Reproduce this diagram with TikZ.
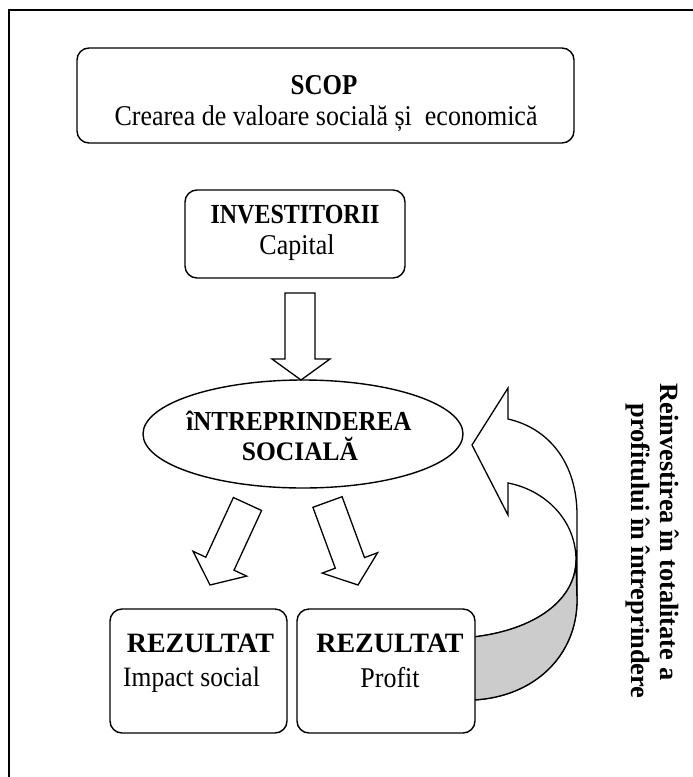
\documentclass[tikz,border=0pt]{standalone}
\usepackage{fontspec}
\usepackage{graphicx}
\setmainfont{Liberation Serif}
\usetikzlibrary{shapes.geometric}
% taller lettering used inside the upper boxes
\newcommand{\tallset}[2]{\scalebox{1}[#1]{#2}}
\begin{document}
\begin{tikzpicture}[x=1pt,y=-1pt,
  frame/.style={line width=1.6pt},
  box/.style={draw, line width=1.4pt, rounded corners=12pt, inner sep=0pt, fill=white},
  blockarrow/.style={draw, line width=1.3pt, fill=white, line join=miter},
  lbl/.style={inner sep=0pt, anchor=base},
  boldlbl/.style={lbl, font=\fontsize{#1}{#1}\selectfont\bfseries},
  plainlbl/.style={lbl, font=\fontsize{#1}{#1}\selectfont},
]
\useasboundingbox (0,0) rectangle (693,777);

% page frame, running off the right and bottom edges
\begin{scope}
  \clip (0,0) rectangle (693,777);
  \draw[frame] (9,10) rectangle (720,800);
\end{scope}

% goal box
\node[box, minimum width=497pt, minimum height=95pt] (scop) at (325.5,95.5) {};
\node[boldlbl=25] (scoptitle) at (324,94) {\tallset{1.15}{SCOP}};
\node[plainlbl=26] (scoptext) at (326,125) {\tallset{1.1}{Crearea de valoare socială și~ economică}};

% investors box
\node[box, minimum width=220pt, minimum height=88pt] (inv) at (295,234) {};
\node[boldlbl=24] (invtitle) at (295,223) {\tallset{1.15}{INVESTITORII}};
\node[plainlbl=26] (invtext) at (297,254) {\tallset{1.1}{Capital}};

% block arrow: investors -> enterprise
\draw[blockarrow] (285,293) -- (315,293) -- (315,359) -- (330,359) -- (301,380)
  -- (272,359) -- (285,359) -- cycle;

% social enterprise
\node[draw, ellipse, line width=1.4pt, minimum width=320pt, minimum height=108pt, inner sep=0pt] (ent) at (303,434) {};
\node[boldlbl=25] (enttitle) at (299,430) {\tallset{1.1}{îNTREPRINDEREA}};
\node[boldlbl=25.5] (entsub) at (300,460) {\tallset{1.05}{SOCIALĂ}};

% block arrows: enterprise -> results
\draw[blockarrow] (233.4,497.5) -- (261.6,510.5) -- (234.0,570.2) -- (246.7,576.1)
  -- (210,585) -- (193.1,551.3) -- (205.8,557.2) -- cycle;
\draw[blockarrow] (312.9,507.3) -- (342.1,496.7) -- (364.5,557.6) -- (377.6,552.7)
  -- (358,585) -- (322.2,573.1) -- (335.3,568.2) -- cycle;

% curved return arrow: profit -> enterprise
\draw[blockarrow] (473,637) .. controls (535,630) and (576,600) .. (576,560)
  .. controls (576,520) and (545,490) .. (508,483) -- (508,515) -- (472,445)
  -- (508,388) -- (508,419) .. controls (548,428) and (577,462) .. (577,515)
  -- (577,600) .. controls (577,655) and (535,697) .. (473,700) -- cycle;
\draw[blockarrow, fill=gray!40] (473,637) .. controls (535,630) and (576,600) .. (576,560)
  -- (577,600) .. controls (577,655) and (535,697) .. (473,700) -- cycle;

% result boxes
\node[box, minimum width=177pt, minimum height=124pt] (resa) at (198.5,671) {};
\node[boldlbl=28] (resatitle) at (200.5,652) {REZULTAT};
\node[plainlbl=25.5] (resatext) at (191.5,686) {\tallset{1.1}{Impact social}};

\node[box, minimum width=178pt, minimum height=124pt] (resb) at (386,671) {};
\node[boldlbl=28] (resbtitle) at (390,652) {REZULTAT};
\node[plainlbl=26] (resbtext) at (390,687) {\tallset{1.1}{Profit}};

% reinvestment caption, set vertically
\node[rotate=-90, inner sep=0pt, font=\fontsize{26.4}{26.4}\selectfont\bfseries] (reinv1) at (670,532) {Reinvestirea în totalitate a};
\node[rotate=-90, inner sep=0pt, font=\fontsize{26.4}{26.4}\selectfont\bfseries] (reinv2) at (638,551) {profitului în întreprindere};
\end{tikzpicture}
\end{document}
